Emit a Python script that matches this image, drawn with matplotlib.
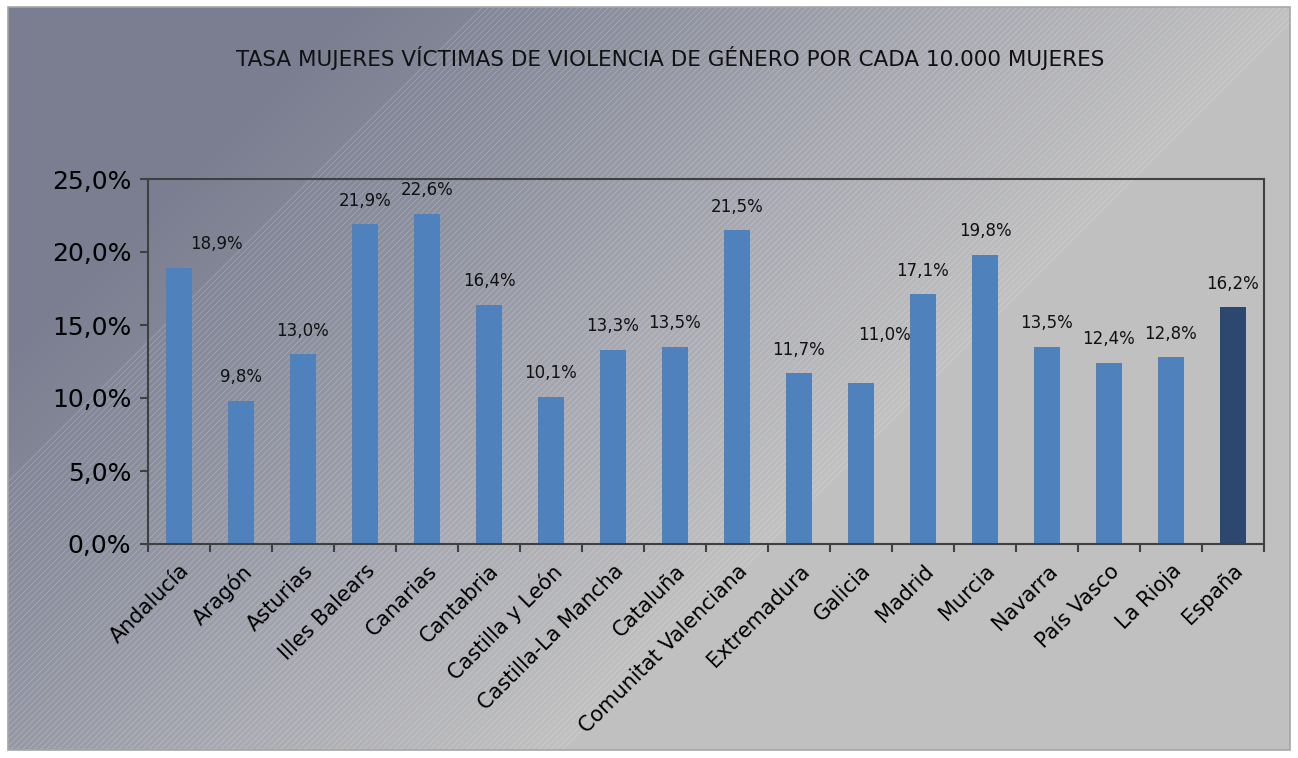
import numpy as np
import matplotlib.pyplot as plt
from matplotlib.patches import Rectangle
from matplotlib.colors import LinearSegmentedColormap
from matplotlib.ticker import FuncFormatter

regiones = ['Andalucía', 'Aragón', 'Asturias', 'Illes Balears', 'Canarias',
            'Cantabria', 'Castilla y León', 'Castilla-La Mancha', 'Cataluña',
            'Comunitat Valenciana', 'Extremadura', 'Galicia', 'Madrid',
            'Murcia', 'Navarra', 'País Vasco', 'La Rioja', 'España']
tasas = [18.9, 9.8, 13.0, 21.9, 22.6, 16.4, 10.1, 13.3, 13.5, 21.5,
         11.7, 11.0, 17.1, 19.8, 13.5, 12.4, 12.8, 16.2]
titulo = 'TASA MUJERES VÍCTIMAS DE VIOLENCIA DE GÉNERO POR CADA 10.000 MUJERES'
# labels moved by hand in the original (points)
desplaza = {'Andalucía': (27, 0), 'Galicia': (17, 18)}

W, H = 1298, 758
fig = plt.figure(figsize=(W / 100, H / 100), dpi=100)
fig.patch.set_facecolor('white')

# background: diagonal gradient plus a band of faint white stripes
bg = fig.add_axes([0, 0, 1, 1], zorder=0)
bg.set_xlim(0, W)
bg.set_ylim(H, 0)
bg.axis('off')
px, py = np.meshgrid(np.arange(8, 1290, 4), np.arange(7, 750, 4))
s = np.clip((px + py - 350) / 950.0, 0, 1)
cmap = LinearSegmentedColormap.from_list('bg', ['#7a7e90', '#8e919f', '#a9aab2', '#c0c0c0'])
bg.imshow(s, cmap=cmap, extent=[8, 1290, 750, 7], aspect='auto', zorder=0,
          interpolation='bilinear')
frame = Rectangle((8, 7), 1282, 743, fill=False, edgecolor='#a6a6a6',
                  linewidth=1.2, zorder=3)
bg.add_patch(frame)
for c in range(490, 1316, 6):
    ln, = bg.plot([c - 760, c], [760, 0], color='white', alpha=0.22,
                  linewidth=0.6, zorder=1)
    ln.set_clip_path(Rectangle((8, 7), 1282, 743, transform=bg.transData))
bg.text(670, 58, titulo, ha='center', va='center', fontsize=15.5, color='#111111')

ax = fig.add_axes([148 / W, 1 - 544 / H, (1264 - 148) / W, (544 - 179) / H], zorder=1)
ax.patch.set_alpha(0)
x = np.arange(len(regiones))
colores = ['#4f81bd'] * (len(regiones) - 1) + ['#2c4770']
ax.bar(x, tasas, width=0.42, color=colores, zorder=2)
for xi, reg, v in zip(x, regiones, tasas):
    dx, dy = desplaza.get(reg, (0, 0))
    ax.annotate(f'{v:.1f}%'.replace('.', ','), (xi, v + 1.0),
                xytext=(dx, dy), textcoords='offset points',
                ha='center', va='bottom', fontsize=12, color='#111111')

ax.set_xlim(-0.5, len(regiones) - 0.5)
ax.set_ylim(0, 25)
ax.set_yticks(np.arange(0, 25.1, 5))
ax.yaxis.set_major_formatter(FuncFormatter(lambda v, p: f'{v:.1f}%'.replace('.', ',')))
ax.set_xticks(np.arange(-0.5, len(regiones), 1))
ax.set_xticklabels([])
ax.set_xticks(x, minor=True)
ax.set_xticklabels(regiones, minor=True, rotation=45, ha='right',
                   rotation_mode='anchor', fontsize=15)
ax.tick_params(axis='x', which='minor', length=0, pad=12)
ax.tick_params(axis='x', which='major', length=6, width=1.5, color='#404040')
ax.tick_params(axis='y', length=6, width=1.5, color='#404040', labelsize=18, pad=6)
for sp in ax.spines.values():
    sp.set_color('#404040')
    sp.set_linewidth(1.5)

fig.savefig('out.png', dpi=100, facecolor=fig.get_facecolor())
